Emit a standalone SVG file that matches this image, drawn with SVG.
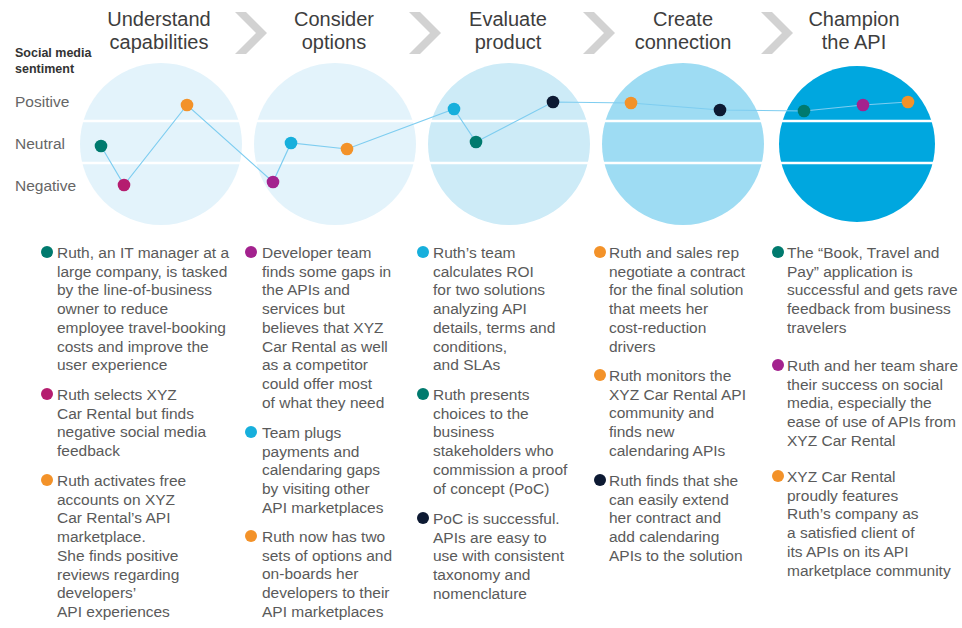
<svg xmlns="http://www.w3.org/2000/svg" width="962" height="628" viewBox="0 0 962 628">
<style>
.title{font-family:"Liberation Sans",Arial,sans-serif;font-size:20px;fill:#3d3d3d;text-anchor:middle}
.axis{font-family:"Liberation Sans",Arial,sans-serif;font-size:15.5px;fill:#666}
.lbl{font-family:"Liberation Sans",Arial,sans-serif;font-size:12.5px;font-weight:bold;fill:#333}
.body{font-family:"Liberation Sans",Arial,sans-serif;font-size:15.5px;fill:#5a5a5a}
.chev{fill:#d2d2d2}
.band{stroke:#fff;stroke-width:2.5}
.teal{fill:#007a6e}.pink{fill:#b51d6f}.purple{fill:#a3228e}.orange{fill:#f39229}.cyan{fill:#17afdc}.navy{fill:#0d1a33}
</style>
<rect width="962" height="628" fill="#fff"/>
<g id="legend">
<text class="lbl" x="15" y="57">Social media</text>
<text class="lbl" x="15" y="73">sentiment</text>
<text class="axis" x="15" y="107">Positive</text>
<text class="axis" x="15" y="149">Neutral</text>
<text class="axis" x="15" y="191">Negative</text>
</g>
<g id="chevrons">
<polygon class="chev" points="235,12 246,12 267,33 246,54 235,54 256,33"/>
<polygon class="chev" points="409,12 420,12 441,33 420,54 409,54 430,33"/>
<polygon class="chev" points="583,12 594,12 615,33 594,54 583,54 604,33"/>
<polygon class="chev" points="761,12 772,12 793,33 772,54 761,54 782,33"/>
</g>
<g id="circles">
<circle cx="161" cy="144" r="81" fill="#e3f3fb"/>
<circle cx="335" cy="144" r="81" fill="#e3f3fb"/>
<circle cx="509" cy="144" r="81" fill="#cdebf7"/>
<circle cx="683" cy="144" r="81" fill="#9edcf3"/>
<circle cx="857" cy="144" r="78" fill="#00a7df"/>
<line class="band" x1="60" y1="121" x2="950" y2="121"/>
<line class="band" x1="60" y1="163" x2="950" y2="163"/>
</g>
<g id="connectors">
<polyline points="101,146 124,185 187,105 273,182 291,143 347,149 454,109 476,142 553,102 631,103 720,110 804,111 863,105 908,102" fill="none" stroke="#7ecdf0" stroke-width="1.2"/>
</g>
<g id="stage1">
<text class="title" x="159" y="26">Understand</text>
<text class="title" x="159" y="49">capabilities</text>
<circle class="teal" cx="101" cy="146" r="6.3"/>
<circle class="pink" cx="124" cy="185" r="6.3"/>
<circle class="orange" cx="187" cy="105" r="6.3"/>
<circle class="teal" cx="47" cy="252" r="6"/>
<text class="body" x="57" y="258"><tspan x="57">Ruth, an IT manager at a</tspan><tspan x="57" dy="18.7">large company, is tasked</tspan><tspan x="57" dy="18.7">by the line-of-business</tspan><tspan x="57" dy="18.7">owner to reduce</tspan><tspan x="57" dy="18.7">employee travel-booking</tspan><tspan x="57" dy="18.7">costs and improve the</tspan><tspan x="57" dy="18.7">user experience</tspan></text>
<circle class="pink" cx="47" cy="394" r="6"/>
<text class="body" x="57" y="400"><tspan x="57">Ruth selects XYZ</tspan><tspan x="57" dy="18.7">Car Rental but finds</tspan><tspan x="57" dy="18.7">negative social media</tspan><tspan x="57" dy="18.7">feedback</tspan></text>
<circle class="orange" cx="47" cy="480" r="6"/>
<text class="body" x="57" y="486"><tspan x="57">Ruth activates free</tspan><tspan x="57" dy="18.7">accounts on XYZ</tspan><tspan x="57" dy="18.7">Car Rental’s API</tspan><tspan x="57" dy="18.7">marketplace.</tspan><tspan x="57" dy="18.7">She finds positive</tspan><tspan x="57" dy="18.7">reviews regarding</tspan><tspan x="57" dy="18.7">developers’</tspan><tspan x="57" dy="18.7">API experiences</tspan></text>
</g>
<g id="stage2">
<text class="title" x="334" y="26">Consider</text>
<text class="title" x="334" y="49">options</text>
<circle class="purple" cx="273" cy="182" r="6.3"/>
<circle class="cyan" cx="291" cy="143" r="6.3"/>
<circle class="orange" cx="347" cy="149" r="6.3"/>
<circle class="purple" cx="251" cy="252" r="6"/>
<text class="body" x="262" y="258"><tspan x="262">Developer team</tspan><tspan x="262" dy="18.7">finds some gaps in</tspan><tspan x="262" dy="18.7">the APIs and</tspan><tspan x="262" dy="18.7">services but</tspan><tspan x="262" dy="18.7">believes that XYZ</tspan><tspan x="262" dy="18.7">Car Rental as well</tspan><tspan x="262" dy="18.7">as a competitor</tspan><tspan x="262" dy="18.7">could offer most</tspan><tspan x="262" dy="18.7">of what they need</tspan></text>
<circle class="cyan" cx="251" cy="432" r="6"/>
<text class="body" x="262" y="438"><tspan x="262">Team plugs</tspan><tspan x="262" dy="18.7">payments and</tspan><tspan x="262" dy="18.7">calendaring gaps</tspan><tspan x="262" dy="18.7">by visiting other</tspan><tspan x="262" dy="18.7">API marketplaces</tspan></text>
<circle class="orange" cx="251" cy="536" r="6"/>
<text class="body" x="262" y="542"><tspan x="262">Ruth now has two</tspan><tspan x="262" dy="18.7">sets of options and</tspan><tspan x="262" dy="18.7">on-boards her</tspan><tspan x="262" dy="18.7">developers to their</tspan><tspan x="262" dy="18.7">API marketplaces</tspan></text>
</g>
<g id="stage3">
<text class="title" x="508" y="26">Evaluate</text>
<text class="title" x="508" y="49">product</text>
<circle class="cyan" cx="454" cy="109" r="6.3"/>
<circle class="teal" cx="476" cy="142" r="6.3"/>
<circle class="navy" cx="553" cy="102" r="6.3"/>
<circle class="cyan" cx="423" cy="252" r="6"/>
<text class="body" x="433" y="258"><tspan x="433">Ruth’s team</tspan><tspan x="433" dy="18.7">calculates ROI</tspan><tspan x="433" dy="18.7">for two solutions</tspan><tspan x="433" dy="18.7">analyzing API</tspan><tspan x="433" dy="18.7">details, terms and</tspan><tspan x="433" dy="18.7">conditions,</tspan><tspan x="433" dy="18.7">and SLAs</tspan></text>
<circle class="teal" cx="423" cy="394" r="6"/>
<text class="body" x="433" y="400"><tspan x="433">Ruth presents</tspan><tspan x="433" dy="18.7">choices to the</tspan><tspan x="433" dy="18.7">business</tspan><tspan x="433" dy="18.7">stakeholders who</tspan><tspan x="433" dy="18.7">commission a proof</tspan><tspan x="433" dy="18.7">of concept (PoC)</tspan></text>
<circle class="navy" cx="423" cy="518" r="6"/>
<text class="body" x="433" y="524"><tspan x="433">PoC is successful.</tspan><tspan x="433" dy="18.7">APIs are easy to</tspan><tspan x="433" dy="18.7">use with consistent</tspan><tspan x="433" dy="18.7">taxonomy and</tspan><tspan x="433" dy="18.7">nomenclature</tspan></text>
</g>
<g id="stage4">
<text class="title" x="683" y="26">Create</text>
<text class="title" x="683" y="49">connection</text>
<circle class="orange" cx="631" cy="103" r="6.3"/>
<circle class="navy" cx="720" cy="110" r="6.3"/>
<circle class="orange" cx="600" cy="252" r="6"/>
<text class="body" x="609" y="258"><tspan x="609">Ruth and sales rep</tspan><tspan x="609" dy="18.7">negotiate a contract</tspan><tspan x="609" dy="18.7">for the final solution</tspan><tspan x="609" dy="18.7">that meets her</tspan><tspan x="609" dy="18.7">cost-reduction</tspan><tspan x="609" dy="18.7">drivers</tspan></text>
<circle class="orange" cx="600" cy="375" r="6"/>
<text class="body" x="609" y="381"><tspan x="609">Ruth monitors the</tspan><tspan x="609" dy="18.7">XYZ Car Rental API</tspan><tspan x="609" dy="18.7">community and</tspan><tspan x="609" dy="18.7">finds new</tspan><tspan x="609" dy="18.7">calendaring APIs</tspan></text>
<circle class="navy" cx="600" cy="480" r="6"/>
<text class="body" x="609" y="486"><tspan x="609">Ruth finds that she</tspan><tspan x="609" dy="18.7">can easily extend</tspan><tspan x="609" dy="18.7">her contract and</tspan><tspan x="609" dy="18.7">add calendaring</tspan><tspan x="609" dy="18.7">APIs to the solution</tspan></text>
</g>
<g id="stage5">
<text class="title" x="854" y="26">Champion</text>
<text class="title" x="854" y="49">the API</text>
<circle class="teal" cx="804" cy="111" r="6.3"/>
<circle class="purple" cx="863" cy="105" r="6.3"/>
<circle class="orange" cx="908" cy="102" r="6.3"/>
<circle class="teal" cx="778" cy="252" r="6"/>
<text class="body" x="787" y="258"><tspan x="787">The “Book, Travel and</tspan><tspan x="787" dy="18.7">Pay” application is</tspan><tspan x="787" dy="18.7">successful and gets rave</tspan><tspan x="787" dy="18.7">feedback from business</tspan><tspan x="787" dy="18.7">travelers</tspan></text>
<circle class="purple" cx="778" cy="365" r="6"/>
<text class="body" x="787" y="371"><tspan x="787" textLength="171" lengthAdjust="spacingAndGlyphs">Ruth and her team share</tspan><tspan x="787" dy="18.7">their success on social</tspan><tspan x="787" dy="18.7">media, especially the</tspan><tspan x="787" dy="18.7">ease of use of APIs from</tspan><tspan x="787" dy="18.7">XYZ Car Rental</tspan></text>
<circle class="orange" cx="778" cy="476" r="6"/>
<text class="body" x="787" y="482"><tspan x="787">XYZ Car Rental</tspan><tspan x="787" dy="18.7">proudly features</tspan><tspan x="787" dy="18.7">Ruth’s company as</tspan><tspan x="787" dy="18.7">a satisfied client of</tspan><tspan x="787" dy="18.7">its APIs on its API</tspan><tspan x="787" dy="18.7">marketplace community</tspan></text>
</g>
</svg>
